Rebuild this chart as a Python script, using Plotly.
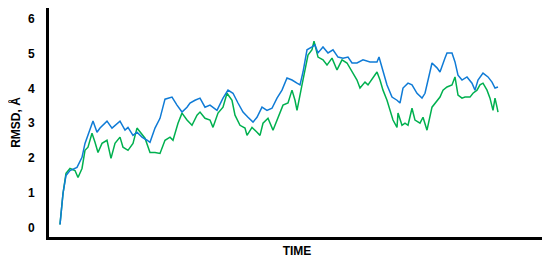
import plotly.graph_objects as go

# ── Data (time in frames, RMSD in Å) ─────────────────────
time_blue = [0, 3, 6, 10, 17, 22, 25, 30, 33, 37, 40, 47, 52, 60, 65, 68, 73, 77, 82, 87,
             90, 95, 100, 105, 112, 117, 122, 127, 130, 135, 140, 145, 150, 157, 163, 168,
             173, 178, 183, 188, 193, 197, 202, 207, 212, 217, 222, 227, 232, 237, 240, 243,
             247, 252, 255, 258, 263, 268, 273, 278, 283, 288, 292, 297, 303, 310, 317, 319,
             323, 327, 332, 337, 340, 343, 348, 352, 357, 362, 365, 368, 372, 377, 380, 385,
             387, 392, 395, 398, 402, 407, 412, 415, 418, 423, 428, 432, 435, 438]
rmsd_blue = [0.09, 0.98, 1.50, 1.64, 1.73, 2.02, 2.42, 2.80, 3.06, 2.74, 2.86, 3.06, 2.86, 3.06,
             2.80, 2.88, 2.65, 2.74, 2.60, 2.51, 2.45, 2.86, 3.14, 3.69, 3.75, 3.52, 3.32, 3.46,
             3.58, 3.66, 3.72, 3.46, 3.52, 3.37, 3.72, 3.95, 3.86, 3.58, 3.32, 3.17, 3.03, 3.17,
             3.46, 3.37, 3.43, 3.72, 3.95, 4.30, 4.24, 4.15, 4.10, 4.47, 5.11, 5.19, 5.25, 5.02,
             5.19, 5.02, 5.11, 4.90, 4.87, 4.90, 4.73, 4.73, 4.82, 4.76, 4.76, 4.90, 4.47, 4.10,
             3.75, 3.66, 3.58, 4.01, 4.15, 4.10, 3.86, 3.72, 3.86, 4.24, 4.73, 4.59, 4.47, 4.87,
             5.02, 5.02, 4.76, 4.38, 4.24, 4.33, 4.15, 3.95, 4.24, 4.44, 4.33, 4.18, 4.01, 4.04]

time_green = [0, 3, 6, 10, 15, 18, 22, 25, 28, 32, 35, 38, 42, 47, 51, 55, 60, 63, 68, 73,
              77, 80, 85, 90, 95, 100, 105, 110, 113, 118, 122, 127, 132, 137, 140, 145, 150,
              153, 158, 163, 167, 172, 175, 180, 185, 187, 192, 197, 200, 203, 208, 213, 218,
              223, 228, 232, 235, 237, 242, 245, 248, 252, 254, 258, 263, 267, 272, 277, 282,
              287, 292, 297, 300, 305, 308, 313, 317, 320, 323, 327, 330, 333, 337, 338, 342,
              345, 348, 352, 355, 360, 363, 367, 372, 377, 380, 383, 387, 392, 395, 398, 402,
              405, 410, 413, 417, 420, 423, 427, 430, 433, 435, 437, 438]
rmsd_green = [0.09, 0.98, 1.56, 1.70, 1.64, 1.44, 1.70, 2.22, 2.31, 2.71, 2.45, 2.16, 2.42,
              2.51, 1.99, 2.42, 2.60, 2.31, 2.22, 2.42, 2.86, 2.74, 2.57, 2.16, 2.16, 2.13,
              2.51, 2.60, 2.51, 3.00, 3.29, 3.09, 2.94, 3.23, 3.32, 3.14, 3.09, 2.88, 3.29,
              3.46, 3.86, 3.66, 3.23, 2.94, 2.86, 2.65, 2.88, 2.74, 2.65, 3.00, 3.14, 2.80,
              3.17, 3.52, 3.58, 3.95, 3.66, 3.37, 4.10, 4.53, 4.96, 5.11, 5.36, 4.90, 4.82,
              4.67, 4.87, 4.53, 4.82, 4.73, 4.47, 4.24, 4.01, 4.18, 4.10, 4.30, 4.47, 4.24,
              3.95, 3.66, 3.37, 3.09, 2.88, 3.29, 2.94, 3.00, 2.94, 3.43, 3.09, 3.00, 3.17,
              2.80, 3.46, 3.66, 3.75, 3.95, 4.04, 4.10, 4.33, 3.81, 3.72, 3.75, 3.75, 3.86,
              3.95, 4.10, 4.15, 3.95, 3.72, 3.37, 3.72, 3.46, 3.32]

y_ticks = [0, 1, 2, 3, 4, 5, 6]

BLUE = "#0f7bd6"
GREEN = "#00b04f"
FONT = "Liberation Sans, Arial, sans-serif"

fig = go.Figure()

fig.add_trace(go.Scatter(
    x=time_green, y=rmsd_green, mode="lines",
    line=dict(color=GREEN, width=1.5),
))
fig.add_trace(go.Scatter(
    x=time_blue, y=rmsd_blue, mode="lines",
    line=dict(color=BLUE, width=1.5),
))

# page body keeps its default 8px margin, so the figure is sized/offset for it
fig.update_layout(
    width=542, height=255,
    showlegend=False,
    plot_bgcolor="white", paper_bgcolor="white",
    font=dict(family=FONT, color="black"),
    margin=dict(l=41, r=5, t=0, b=26, autoexpand=False),
)

fig.update_xaxes(
    range=[-11, 485], automargin=False,
    showgrid=False, zeroline=False,
    showline=True, linecolor="black", linewidth=3,
    showticklabels=False, ticks="",
    title=dict(text="TIME", font=dict(size=12, family=FONT, weight="bold"), standoff=8),
)

fig.update_yaxes(
    range=[-0.27, 6.31], automargin=False,
    tickvals=y_ticks,
    showgrid=False, zeroline=False,
    showline=True, linecolor="black", linewidth=3,
    ticks="", ticklabelstandoff=9,
    tickfont=dict(size=12, family=FONT, weight="bold"),
    title=dict(text="RMSD, Å", font=dict(size=12, family=FONT, weight="bold"), standoff=8),
)

fig.write_html("out.html")
